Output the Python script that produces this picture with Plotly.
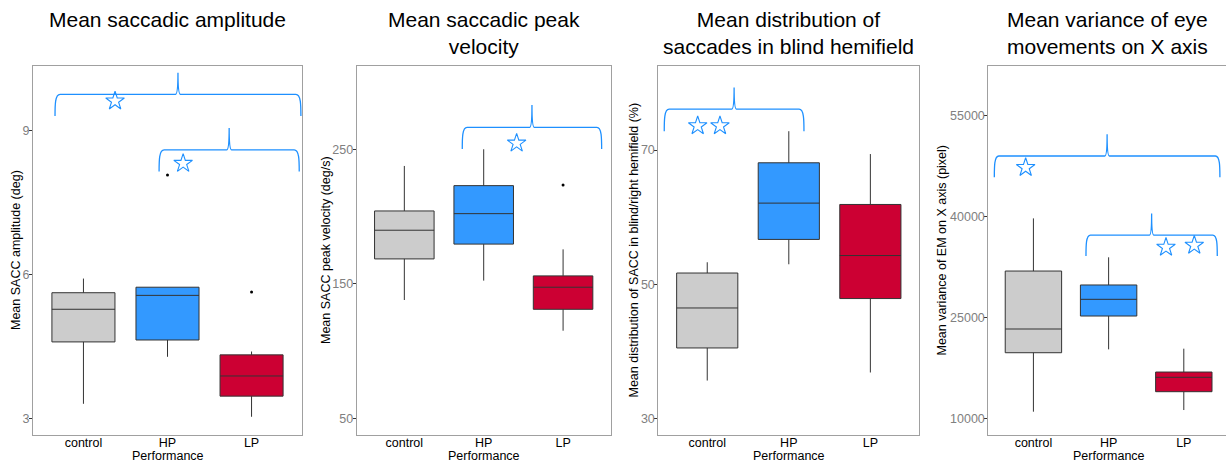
import plotly.graph_objects as go

W, H = 1226, 462

categories = ["control", "HP", "LP"]
colors = ["#CCCCCC", "#3399FF", "#CC0033"]

# Panel 1: Mean saccadic amplitude
amp_q1 = [4.60, 4.64, 3.47]
amp_med = [5.28, 5.57, 3.89]
amp_q3 = [5.625, 5.74, 4.33]
amp_lo = [3.31, 4.29, 3.04]
amp_hi = [5.92, 5.74, 4.40]
amp_out_x = ["HP", "LP"]
amp_out_y = [8.08, 5.64]

# Panel 2: Mean saccadic peak velocity
vel_q1 = [168.6, 179.6, 131.2]
vel_med = [189.9, 202.2, 147.6]
vel_q3 = [204.2, 223.0, 156.0]
vel_lo = [138.1, 152.5, 115.3]
vel_hi = [237.6, 250.0, 175.7]
vel_out_x = ["LP"]
vel_out_y = [223.5]

# Panel 3: Mean distribution of saccades in blind hemifield
dist_q1 = [40.55, 56.7, 47.9]
dist_med = [46.5, 62.1, 54.3]
dist_q3 = [51.7, 68.1, 61.9]
dist_lo = [35.7, 53.0, 36.9]
dist_hi = [53.3, 72.8, 69.4]
dist_out_x = []
dist_out_y = []

# Panel 4: Mean variance of eye movements on X axis
var_q1 = [19800, 25250, 14010]
var_med = [23320, 27730, 16150]
var_q3 = [31930, 29860, 16930]
var_lo = [11040, 20300, 11290]
var_hi = [39750, 33970, 20400]
var_out_x = []
var_out_y = []

titles = ["Mean saccadic amplitude",
          "Mean saccadic peak<br>velocity",
          "Mean distribution of<br>saccades in blind hemifield",
          "Mean variance of eye<br>movements on X axis"]
ytitles = ["Mean SACC amplitude (deg)",
           "Mean SACC peak velocity (deg/s)",
           "Mean distribution of SACC in blind/right hemifield (%)",
           "Mean variance of EM on X axis (pixel)"]
yticks = [[3, 6, 9], [50, 150, 250], [30, 50, 70], [10000, 25000, 40000, 55000]]
yranges = [[2.66, 10.35], [37.9, 311.8], [27.6, 82.5], [7580, 62380]]

# significance brackets (category-index units): (x_start, x_end, y_line, y_end, y_peak)
brackets = [
    [(-0.338, 2.587, 9.76, 9.31, 10.21), (0.90, 2.567, 8.60, 8.15, 9.06)],
    [(0.73, 2.486, 266.3, 250.2, 282.9)],
    [(-0.527, 1.186, 76.07, 72.8, 79.3)],
    [(-0.52, 2.48, 49015, 45850, 52238), (0.699, 2.445, 37268, 34149, 40490)],
]
stars_x = [[0.376, 1.186], [1.415], [-0.117, 0.156], [-0.103, 1.763, 2.139]]
stars_y = [[9.62, 8.32], [254.5], [73.6, 73.6], [47300, 35450, 35750]]

panels = [
    (amp_q1, amp_med, amp_q3, amp_lo, amp_hi, amp_out_x, amp_out_y),
    (vel_q1, vel_med, vel_q3, vel_lo, vel_hi, vel_out_x, vel_out_y),
    (dist_q1, dist_med, dist_q3, dist_lo, dist_hi, dist_out_x, dist_out_y),
    (var_q1, var_med, var_q3, var_lo, var_hi, var_out_x, var_out_y),
]

# layout geometry (pixels)
px_left = [33, 356.7, 658.3, 988.3]
px_right = [302, 610.7, 919.3, 1226]
xranges = [[-0.6, 2.6], [-0.6, 2.6], [-0.6, 2.6], [-0.6, 2.561]]
plot_top, plot_bot = 66, 435
ytitle_px = [16.5, 326.5, 634, 942]
title_cx = [167.5, 483.7, 788.8, 1107.5]

FONT = "Liberation Sans, Arial, Helvetica, sans-serif"
BLUE = "#1E90FF"
cat_idx = {c: k for k, c in enumerate(categories)}

fig = go.Figure()
layout = dict(
    width=W, height=H, margin=dict(l=0, r=0, t=0, b=0),
    paper_bgcolor="white", plot_bgcolor="white", showlegend=False,
    font=dict(family=FONT, color="black"),
)
annotations = []
shapes = []

for i, (q1, med, q3, lo, hi, ox, oy) in enumerate(panels):
    n = "" if i == 0 else str(i + 1)
    xa, ya = "x" + n, "y" + n
    for j, cat in enumerate(categories):
        fig.add_trace(go.Box(
            x=[cat_idx[cat]], q1=[q1[j]], median=[med[j]], q3=[q3[j]],
            lowerfence=[lo[j]], upperfence=[hi[j]], name=cat,
            fillcolor=colors[j], line=dict(color="#333333", width=1),
            width=0.75, whiskerwidth=0, boxpoints=False,
            xaxis=xa, yaxis=ya,
        ))
    if ox:
        fig.add_trace(go.Scatter(x=[cat_idx[c] for c in ox], y=oy, mode="markers",
                                 marker=dict(color="black", size=3),
                                 xaxis=xa, yaxis=ya))
    fig.add_trace(go.Scatter(x=stars_x[i], y=stars_y[i], mode="markers",
                             marker=dict(symbol="star-open", size=14,
                                         color=BLUE, line=dict(color=BLUE, width=1.1)),
                             xaxis=xa, yaxis=ya))
    for (x0, x1, yl, ye, yp) in brackets[i]:
        xm = (x0 + x1) / 2
        r, s = 0.06, 0.03
        ymid = (yl + ye) / 2
        path = (f"M {x0},{ye} C {x0},{ymid} {x0},{yl} {x0 + r},{yl} "
                f"L {xm - s},{yl} Q {xm},{yl} {xm},{yp} Q {xm},{yl} {xm + s},{yl} "
                f"L {x1 - r},{yl} C {x1},{yl} {x1},{ymid} {x1},{ye}")
        shapes.append(dict(type="path", path=path, xref=xa, yref=ya,
                           line=dict(color=BLUE, width=1.3), layer="above"))

    layout["xaxis" + n] = dict(
        domain=[px_left[i] / W, px_right[i] / W], range=xranges[i],
        tickvals=[0, 1, 2], ticktext=categories, ticklabelstandoff=-4,
        anchor=ya, showline=True, mirror=True, linecolor="#A0A0A0", linewidth=1,
        ticks="", showgrid=False, zeroline=False,
        tickfont=dict(size=12.5, color="black", family=FONT),
    )
    layout["yaxis" + n] = dict(
        domain=[(H - plot_bot) / H, (H - plot_top) / H], range=yranges[i],
        anchor=xa, showline=True, mirror=(i < 3), linecolor="#A0A0A0", linewidth=1,
        ticks="outside", ticklen=3, tickcolor="#333333", tickwidth=1,
        tickvals=yticks[i], tickformat="d", ticklabelstandoff=-3,
        showgrid=False, zeroline=False,
        tickfont=dict(size=12.5, color="#808080", family=FONT),
    )
    annotations.append(dict(text=titles[i], xref="paper", yref="paper",
                            x=title_cx[i] / W, y=1 - 6 / H, xanchor="center", yanchor="top",
                            showarrow=False, font=dict(size=21, color="black", family=FONT)))
    annotations.append(dict(text=ytitles[i], xref="paper", yref="paper",
                            x=ytitle_px[i] / W, y=(H - (plot_top + plot_bot) / 2) / H,
                            xanchor="center", yanchor="middle", textangle=-90,
                            showarrow=False, font=dict(size=12.5, color="black", family=FONT)))
    center_px = px_left[i] + (1 - xranges[i][0]) * (px_right[i] - px_left[i]) / (xranges[i][1] - xranges[i][0])
    annotations.append(dict(text="Performance", xref="paper", yref="paper",
                            x=center_px / W, y=(H - 456) / H, xanchor="center", yanchor="middle",
                            showarrow=False, font=dict(size=12.5, color="black", family=FONT)))

layout["annotations"] = annotations
layout["shapes"] = shapes
fig.update_layout(**layout)
fig.write_html("out.html")
